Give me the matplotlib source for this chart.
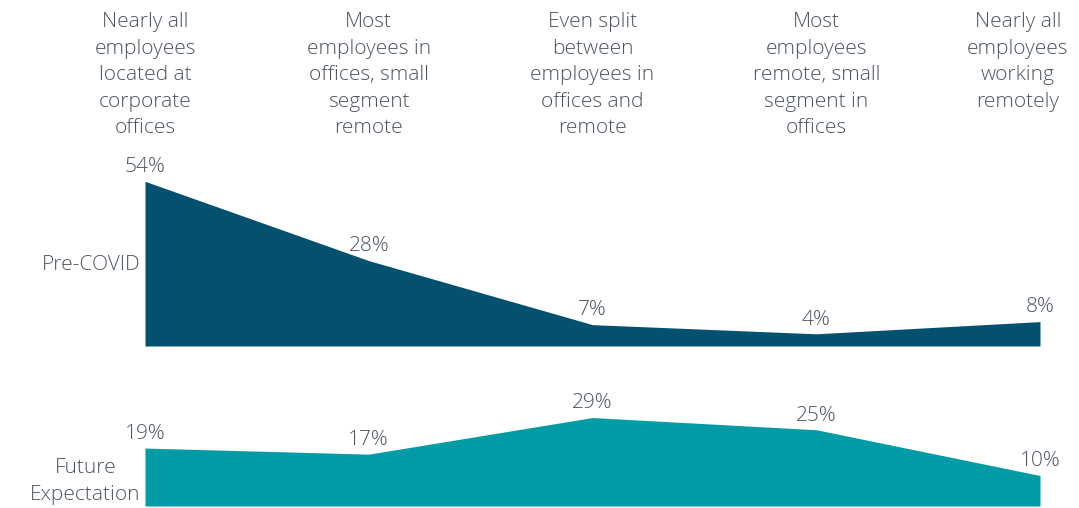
import matplotlib.pyplot as plt

plt.rcParams['font.family'] = ['Open Sans', 'DejaVu Sans']

categories = [
    "Nearly all\nemployees\nlocated at\ncorporate\noffices",
    "Most\nemployees in\noffices, small\nsegment\nremote",
    "Even split\nbetween\nemployees in\noffices and\nremote",
    "Most\nemployees\nremote, small\nsegment in\noffices",
    "Nearly all\nemployees\nworking\nremotely",
]
pre_covid = [54, 28, 7, 4, 8]
future = [19, 17, 29, 25, 10]

rows = [("Pre-COVID", pre_covid, "#03506f", 346, 26.5),
        ("Future\nExpectation", future, "#009ba5", 506, 8)]

text_color = "#4a5560"
W, H = 1079, 508
fig = plt.figure(figsize=(W / 100, H / 100), dpi=100)

x = list(range(len(categories)))
left, right = 145, 1040
ymax = 60
px_per_unit = 3.05
fs = 15
ls = 1.44

for name, vals, color, base, label_y in rows:
    h = ymax * px_per_unit
    ax = fig.add_axes([left / W, (H - base) / H, (right - left) / W, h / H])
    ax.fill_between(x, 0, vals, color=color, linewidth=0)
    ax.set_xlim(0, len(x) - 1)
    ax.set_ylim(0, ymax)
    ax.axis("off")
    for xi, v in zip(x, vals):
        ax.annotate(f"{v}%", (xi, v), xytext=(0, 3), textcoords="offset points",
                    ha="center", va="bottom", fontsize=fs, color=text_color,
                    fontweight="light", annotation_clip=False)
    ax.annotate(name, (0, label_y), xycoords=("axes fraction", "data"),
                xytext=(-3, 0), textcoords="offset points", ha="right",
                va="center", multialignment="center", fontsize=fs,
                color=text_color, fontweight="light", linespacing=ls,
                annotation_clip=False)

for xi, label in zip(x, categories):
    xf = (left + (right - left) * xi / (len(x) - 1)) / W
    if xi == len(x) - 1:
        xf = 1018 / W
    fig.text(xf, 1 - 12 / H, label, ha="center", va="top", fontsize=fs,
             color=text_color, fontweight="light", linespacing=ls)

fig.savefig("out.png", dpi=100)
